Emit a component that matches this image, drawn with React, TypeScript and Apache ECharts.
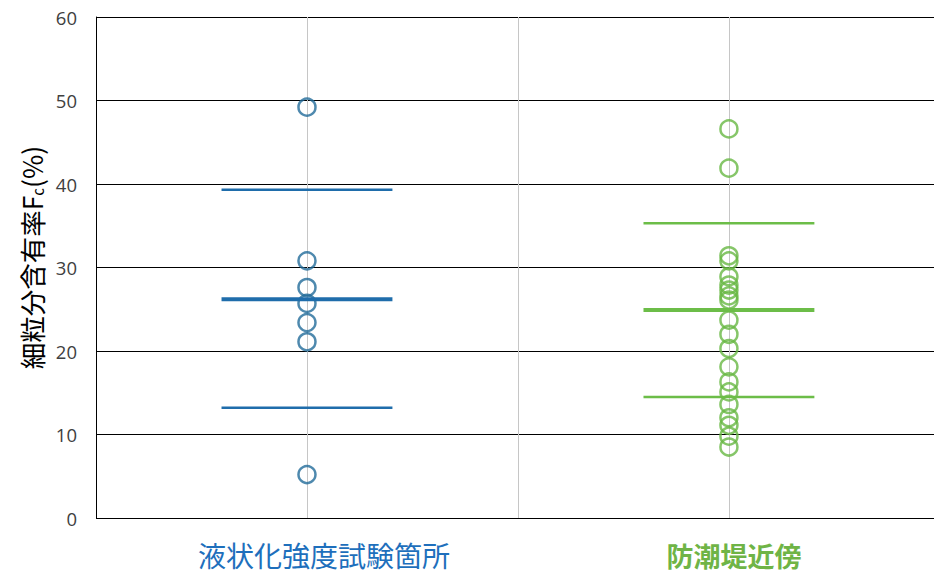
import React, { useEffect, useRef } from "react";
import * as echarts from "echarts";

const categories = ["液状化強度試験箇所", "防潮堤近傍"];
const categoryX = [1, 3];
const blueValues = [49.2, 30.8, 27.6, 25.7, 23.4, 21.1, 5.2];
const greenValues = [
  46.6, 41.9, 31.4, 30.8, 28.9, 27.9, 27.3, 26.6, 26.1, 23.7, 22.0, 20.3, 18.1,
  16.3, 15.1, 13.6, 12.0, 11.1, 9.8, 8.5,
];
const meanValues = [26.2, 24.9];
const upperValues = [39.3, 35.3];
const lowerValues = [13.2, 14.5];
const yTicks = [0, 10, 20, 30, 40, 50, 60];

const pointColors = ["#226c9a", "#68b844"];
const lineColors = ["#1f6dab", "#6cbd48"];
const labelColors = ["#1e6fbc", "#6fb446"];

export default function App() {
  const ref = useRef<HTMLDivElement>(null);
  useEffect(() => {
    if (!ref.current) return;
    const chart = echarts.init(ref.current, undefined, { renderer: "svg" });
    const halfWidth = 0.405;
    const lineSeries: any[] = [];
    categoryX.forEach((cx, i) => {
      const defs = [
        { v: upperValues[i], w: 2.5 },
        { v: lowerValues[i], w: 2.5 },
        { v: meanValues[i], w: 4 },
      ];
      defs.forEach((d) => {
        lineSeries.push({
          type: "line",
          data: [
            [cx - halfWidth, d.v],
            [cx + halfWidth, d.v],
          ],
          symbol: "none",
          lineStyle: { color: lineColors[i], width: d.w },
          z: 5,
        });
      });
    });
    chart.setOption({
      animation: false,
      grid: { left: 96, top: 17, right: 0, bottom: 56, containLabel: false },
      xAxis: {
        type: "value",
        min: 0,
        max: 3.972,
        interval: 1,
        axisLine: { show: false },
        axisTick: { show: false },
        splitLine: { show: true, lineStyle: { color: "#c6c6c6", width: 1 } },
        axisLabel: {
          margin: 22,
          showMaxLabel: false,
          formatter: (v: number) => {
            const idx = categoryX.indexOf(Math.round(v));
            if (idx < 0 || Math.abs(v - categoryX[idx]) > 1e-6) return "";
            return `{c${idx}|${categories[idx]}}`;
          },
          rich: {
            c0: {
              color: labelColors[0],
              fontSize: 28,
              lineHeight: 30,
              fontFamily: "Noto Sans CJK JP",
              padding: [0, 0, 0, 34],
            },
            c1: {
              color: labelColors[1],
              fontSize: 27,
              lineHeight: 30,
              fontFamily: "Noto Sans CJK JP",
              fontWeight: "bold",
              padding: [0, 0, 0, 10],
            },
          },
        },
      },
      yAxis: {
        type: "value",
        min: 0,
        max: 60,
        interval: 10,
        axisLine: { show: true, lineStyle: { color: "#000", width: 1 } },
        axisTick: { show: false },
        splitLine: { show: true, lineStyle: { color: "#000", width: 1 } },
        axisLabel: {
          margin: 19,
          fontSize: 18.5,
          color: "#404040",
          fontFamily: "Open Sans",
          formatter: (v: number) => (yTicks.includes(v) ? String(v) : ""),
        },
        name: "{m|細粒分含有率F}{s|c}{e|(%)}",
        nameLocation: "middle",
        nameRotate: 90,
        nameGap: 48,
        nameTextStyle: {
          rich: {
            m: { fontSize: 26.5, color: "#000", fontFamily: "Noto Sans CJK JP", padding: [0, 0, 0, 20] },
            s: { fontSize: 15, color: "#000", fontFamily: "Noto Sans CJK JP", verticalAlign: "bottom", padding: [10, 0, 0, 0] },
            e: { fontSize: 26.5, color: "#000", fontFamily: "Noto Sans CJK JP" },
          },
        },
      },
      series: [
        {
          type: "scatter",
          data: blueValues.map((v) => [categoryX[0], v]),
          symbol: "circle",
          symbolSize: 17,
          itemStyle: { color: "rgba(255,255,255,0)", borderColor: pointColors[0], borderWidth: 2.5 },
          z: 3,
        },
        {
          type: "scatter",
          data: greenValues.map((v) => [categoryX[1], v]),
          symbol: "circle",
          symbolSize: 17,
          itemStyle: { color: "rgba(255,255,255,0)", borderColor: pointColors[1], borderWidth: 2.5 },
          z: 3,
        },
        ...lineSeries,
      ],
    });
    return () => chart.dispose();
  }, []);
  return (
    <div
      ref={ref}
      style={{ position: "fixed", left: 0, top: 0, width: 934, height: 574, background: "#fff" }}
    />
  );
}
